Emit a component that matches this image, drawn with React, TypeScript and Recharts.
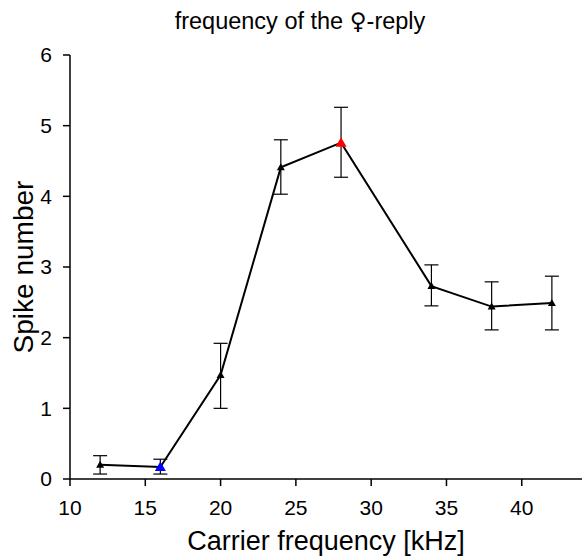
import { ErrorBar, Line, LineChart, XAxis, YAxis } from "recharts"

const frequencies = [12, 16, 20, 24, 28, 34, 38, 42]
const spikeNumbers = [0.2, 0.17, 1.47, 4.41, 4.76, 2.73, 2.44, 2.49]
const errLow = [0.13, 0.1, 0.47, 0.38, 0.49, 0.28, 0.33, 0.38]
const errHigh = [0.13, 0.11, 0.45, 0.39, 0.5, 0.3, 0.35, 0.38]
const xTicks = [10, 15, 20, 25, 30, 35, 40]
const yTicks = [0, 1, 2, 3, 4, 5, 6]

// highlighted points (best / worst frequency)
const HIGHLIGHT: Record<number, string> = { 16: "#0000ff", 28: "#ff0000" }

const data = frequencies.map((f, i) => ({
    freq: f,
    spikes: spikeNumbers[i],
    err: [errLow[i], errHigh[i]],
}))

const FONT = '"Liberation Sans", Arial, Helvetica, sans-serif'

function Triangle(props: any) {
    const { cx, cy, payload } = props
    if (cx == null || cy == null) return null
    const color = HIGHLIGHT[payload.freq]
    const s = color ? 5.5 : 4
    const pts = `${cx},${cy - s} ${cx - s},${cy + s * 0.75} ${cx + s},${cy + s * 0.75}`
    return <polygon key={payload.freq} points={pts} fill={color ?? "#000"} stroke="none" />
}

export default function App() {
    return (
        <div style={{ position: "relative", width: 582, height: 556, background: "#fff", fontFamily: FONT }}>
            <style>{"body{margin:0}"}</style>
            <div style={{ position: "absolute", top: 8, left: 0, width: 600, textAlign: "center", fontSize: 23.5, color: "#000", lineHeight: "27px" }}>
                frequency of the <span style={{ fontFamily: '"DejaVu Sans", sans-serif', fontSize: 23 }}>♀</span>-reply
            </div>
            <LineChart width={582} height={556} data={data} margin={{ top: 55, right: 0, bottom: 0, left: 0 }}>
                <XAxis
                    dataKey="freq"
                    type="number"
                    domain={[10, 44]}
                    ticks={xTicks}
                    allowDataOverflow
                    stroke="#000"
                    strokeWidth={1.5}
                    tickSize={7}
                    tickMargin={14}
                    tick={{ fill: "#000", fontSize: 21, fontFamily: FONT }}
                    height={77}
                    label={{ value: "Carrier frequency [kHz]", position: "insideBottom", offset: 6, fill: "#000", fontSize: 27, fontFamily: FONT }}
                />
                <YAxis
                    type="number"
                    domain={[0, 6]}
                    ticks={yTicks}
                    stroke="#000"
                    strokeWidth={1.5}
                    tickSize={7}
                    tickMargin={11}
                    tick={{ fill: "#000", fontSize: 21, fontFamily: FONT }}
                    width={70}
                    label={{ value: "Spike number", angle: -90, position: "insideLeft", offset: 23, style: { textAnchor: "middle" }, fill: "#000", fontSize: 28, fontFamily: FONT }}
                />
                <Line
                    dataKey="spikes"
                    stroke="#000"
                    strokeWidth={2}
                    dot={<Triangle />}
                    activeDot={false}
                    isAnimationActive={false}
                >
                    <ErrorBar dataKey="err" direction="y" width={7} stroke="#000" strokeWidth={1.2} />
                </Line>
            </LineChart>
        </div>
    )
}
